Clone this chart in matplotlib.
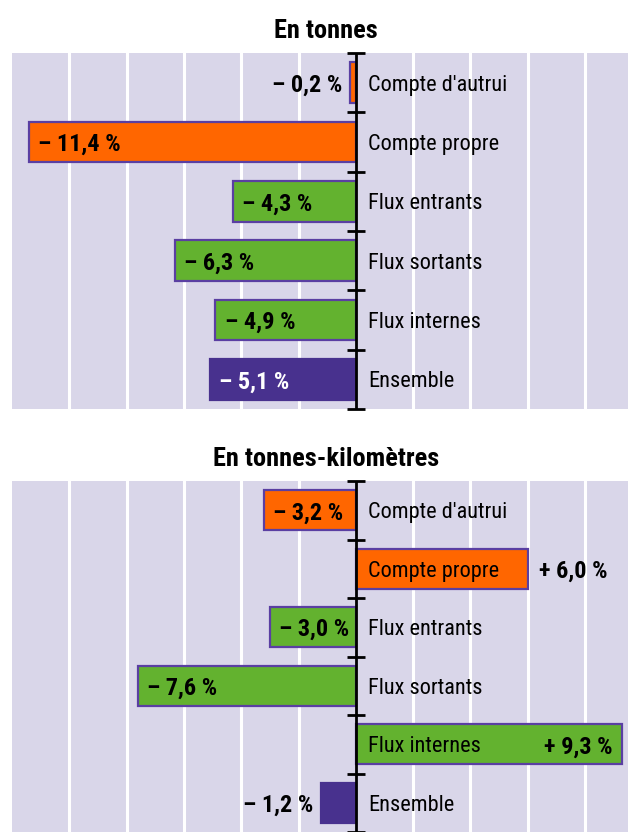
import numpy as np
import matplotlib.pyplot as plt

plt.rcParams['font.family'] = ['Roboto Condensed', 'DejaVu Sans']
plt.rcParams['font.stretch'] = 'condensed'

# données
categories = ["Compte d'autrui", "Compte propre", "Flux entrants",
              "Flux sortants", "Flux internes", "Ensemble"]
tonnes = [-0.2, -11.4, -4.3, -6.3, -4.9, -5.1]
tonnes_km = [-3.2, 6.0, -3.0, -7.6, 9.3, -1.2]
titres = ["En tonnes", "En tonnes-kilomètres"]

orange = '#ff6600'
vert = '#63b22f'
violet = '#48318e'
bord = '#5a3fa2'
fond = '#d9d6e9'
couleurs = [orange, orange, vert, vert, vert, violet]

W, H = 628, 832
fig = plt.figure(figsize=(W / 100, H / 100), dpi=100)


def fmt(v):
    s = '–' if v < 0 else '+'
    return f"{s} {abs(v):.1f} %".replace('.', ',')


def panneau(ax, valeurs):
    ax.set_facecolor(fond)
    ax.set_xlim(-12, 9.5)
    ax.set_ylim(5.5, -0.5)
    for x in np.arange(-10, 10, 2):
        if x != 0:
            ax.axvline(x, color='white', lw=2.2, zorder=1)
    y = np.arange(len(categories))
    for i, v in enumerate(valeurs):
        ec = couleurs[i] if i == len(categories) - 1 else bord
        ax.barh(y[i], v, height=0.68, color=couleurs[i], edgecolor=ec,
                lw=1.6, zorder=2)
        ax.text(0.42, y[i], categories[i], ha='left', va='center_baseline',
                fontsize=16, zorder=4)
        txt_col = 'white' if i == len(categories) - 1 else 'black'
        kw = dict(va='center_baseline', fontsize=17.5, fontweight='bold',
                  zorder=4)
        if v < 0 and abs(v) >= 2:
            ax.text(v + 0.32, y[i], fmt(v), ha='left', color=txt_col, **kw)
        elif v < 0:
            ax.text(v - 0.28, y[i], fmt(v), ha='right', **kw)
        elif v < 8:
            ax.text(v + 0.38, y[i], fmt(v), ha='left', **kw)
        else:
            ax.text(v - 0.35, y[i], fmt(v), ha='right', **kw)
    ax.axvline(0, color='black', lw=2, zorder=3)
    ax.hlines(np.arange(-0.5, 6, 1), -0.32, 0.32, color='black', lw=2,
              zorder=3, clip_on=False)
    ax.set_xticks([])
    ax.set_yticks([])
    for s in ax.spines.values():
        s.set_visible(False)


ax1 = fig.add_axes([12 / W, 1 - 409 / H, 1 - 12 / W, 356 / H])
ax2 = fig.add_axes([12 / W, 0, 1 - 12 / W, 351 / H])
panneau(ax1, tonnes)
panneau(ax2, tonnes_km)

fig.text(326 / W, 1 - 28 / H, titres[0], ha='center', va='center_baseline',
         fontsize=19, fontweight='bold')
fig.text(326 / W, 1 - 457 / H, titres[1], ha='center', va='center_baseline',
         fontsize=19, fontweight='bold')

plt.savefig('out.png', dpi=100)
